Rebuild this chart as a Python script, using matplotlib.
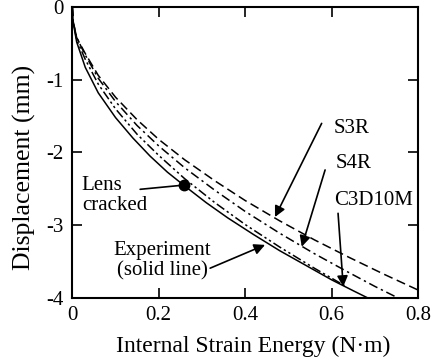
import matplotlib
matplotlib.use("Agg")
import matplotlib.pyplot as plt

plt.rcParams['font.family'] = ['Liberation Serif', 'DejaVu Serif']
plt.rcParams['axes.unicode_minus'] = False

# Experiment (solid line)
exp_x = [0, 0.002, 0.01, 0.03, 0.06, 0.1, 0.14, 0.18, 0.22, 0.26, 0.31, 0.36, 0.42, 0.48, 0.54, 0.6, 0.65, 0.684]
exp_y = [0, -0.21, -0.48, -0.83, -1.18, -1.52, -1.80, -2.05, -2.27, -2.46, -2.69, -2.90, -3.13, -3.35, -3.55, -3.75, -3.90, -4.0]

# S3R (dashed)
s3r_x = [0, 0.002, 0.01, 0.03, 0.06, 0.1, 0.15, 0.2, 0.26, 0.33, 0.4, 0.48, 0.56, 0.64, 0.72, 0.8]
s3r_y = [0, -0.2, -0.42, -0.64, -0.94, -1.24, -1.55, -1.82, -2.10, -2.39, -2.66, -2.94, -3.20, -3.44, -3.67, -3.89]

# S4R (dash-dot)
s4r_x = [0, 0.002, 0.01, 0.03, 0.06, 0.1, 0.15, 0.2, 0.26, 0.33, 0.4, 0.48, 0.56, 0.64, 0.70, 0.754]
s4r_y = [0, -0.2, -0.42, -0.66, -0.98, -1.30, -1.63, -1.91, -2.21, -2.52, -2.81, -3.11, -3.39, -3.65, -3.84, -4.0]

# C3D10M (dash-dot-dot)
c3d_x = [0, 0.002, 0.01, 0.03, 0.06, 0.1, 0.15, 0.2, 0.26, 0.33, 0.4, 0.48, 0.56, 0.63]
c3d_y = [0, -0.2, -0.45, -0.72, -1.06, -1.40, -1.75, -2.04, -2.36, -2.69, -2.99, -3.30, -3.59, -3.83]

crack_x = [0.258]
crack_y = [-2.45]

xticks = [0, 0.2, 0.4, 0.6, 0.8]
xticklabels = ['0', '0.2', '0.4', '0.6', '0.8']
yticks = [0, -1, -2, -3, -4]
yticklabels = ['0', '-1', '-2', '-3', '-4']

fig = plt.figure(figsize=(4.32, 3.62), dpi=100)
ax = fig.add_axes([0.1674, 0.1768, 0.8002, 0.8039])

lw = 1.1
ax.plot(exp_x, exp_y, color='black', lw=lw, solid_capstyle='butt')
ax.plot(s3r_x, s3r_y, color='black', lw=lw, dashes=(6, 3))
ax.plot(s4r_x, s4r_y, color='black', lw=lw, dashes=(6, 2.5, 1.5, 2.5))
ax.plot(c3d_x, c3d_y, color='black', lw=lw, dashes=(6, 2, 1.5, 2, 1.5, 2))
ax.plot(crack_x, crack_y, 'o', color='black', ms=7.5)

ax.set_xlim(0, 0.8)
ax.set_ylim(-4, 0)
ax.set_xticks(xticks)
ax.set_xticklabels(xticklabels)
ax.set_yticks(yticks)
ax.set_yticklabels(yticklabels)
ax.tick_params(direction='in', length=7, width=1.2, top=True, right=True,
               labelsize=15, pad=6)
for s in ax.spines.values():
    s.set_linewidth(1.5)

ax.set_xlabel('Internal Strain Energy (N\u00b7m)', fontsize=17)
ax.xaxis.set_label_coords(0.523, -0.13)
ax.set_ylabel('Displacement (mm)', fontsize=18.5)
ax.yaxis.set_label_coords(-0.106, 0.45)

ap = dict(arrowstyle='-|>', color='black', lw=1.2, mutation_scale=16, shrinkA=0, shrinkB=0)

ax.text(0.646, -1.667, 'S3R', fontsize=15, ha='center', va='center')
ax.annotate('', xy=(0.469, -2.887), xytext=(0.577, -1.60), arrowprops=ap)

ax.text(0.650, -2.158, 'S4R', fontsize=15, ha='center', va='center')
ax.annotate('', xy=(0.531, -3.295), xytext=(0.585, -2.24), arrowprops=ap)

ax.text(0.696, -2.653, 'C3D10M', fontsize=15, ha='center', va='center')
ax.annotate('', xy=(0.627, -3.845), xytext=(0.615, -2.836), arrowprops=ap)

ax.text(0.022, -2.59, 'Lens\ncracked', fontsize=15, ha='left', va='center', linespacing=1.1)
ax.annotate('', xy=(0.255, -2.45), xytext=(0.157, -2.506),
            arrowprops=dict(arrowstyle='-', color='black', lw=1.2, shrinkA=0, shrinkB=0))

ax.text(0.209, -3.49, 'Experiment\n(solid line)', fontsize=15, ha='center', va='center', linespacing=1.1)
ax.annotate('', xy=(0.446, -3.27), xytext=(0.319, -3.59), arrowprops=ap)

fig.savefig('out.png', dpi=100)
